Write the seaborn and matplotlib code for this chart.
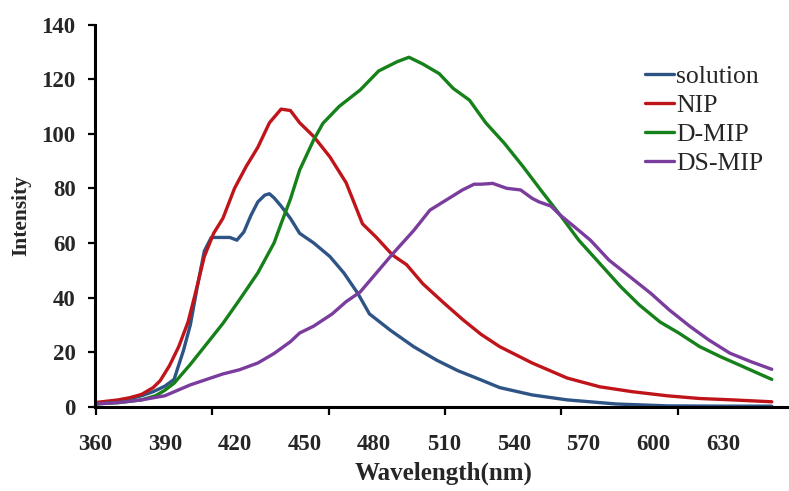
import numpy as np
import pandas as pd
from matplotlib import pyplot as plt
import seaborn as sns

# values
solution_wl = [360, 370, 380, 385, 390, 394, 398, 401, 404, 407, 410, 414, 418, 421, 424, 427,
               430, 433, 435, 437, 440, 444, 448, 454, 461, 467, 473, 478, 487, 497, 507, 516,
               526, 534, 548, 563, 584, 606, 630, 651]
solution_int = [1.0, 2.0, 4.0, 5.5, 7.5, 10.0, 20.5, 30, 44, 57, 62, 62, 62, 61, 64, 70,
                75, 77.5, 78, 76.5, 73.5, 69, 63.5, 60, 55, 49, 41.5, 34, 28, 22, 17, 13.2,
                9.8, 7, 4.3, 2.5, 1.0, 0.3, 0.2, 0.2]

nip_wl = [360, 365, 370, 375, 380, 385, 388, 392, 396, 400, 403, 407, 411, 415, 420, 425,
          430, 435, 440, 444, 448, 454, 461, 468, 475, 481, 488, 494, 501, 510, 518, 526,
          534, 548, 563, 577, 591, 606, 620, 634, 651]
nip_int = [1.5, 2.0, 2.5, 3.3, 4.5, 7.0, 9.5, 15, 22, 31, 41, 55, 63.5, 69, 80, 88,
           95, 104, 109, 108.5, 104, 99, 91.5, 82, 67, 62, 55.5, 52, 45, 38, 32, 26.5,
           22, 16, 10.5, 7.3, 5.5, 4, 3, 2.5, 1.8]

dmip_wl = [360, 370, 380, 386, 390, 394, 401, 408, 415, 422, 430, 437, 440, 444, 448, 454,
           458, 465, 474, 482, 490, 495, 501, 508, 514, 521, 528, 536, 544, 552, 560, 568,
           577, 586, 594, 603, 611, 620, 629, 637, 642, 651]
dmip_int = [1.0, 1.5, 2.5, 4.0, 6.0, 8.6, 15.5, 23, 30.5, 39, 49, 60, 67, 76, 86.7, 97.7,
            103.8, 110, 116, 123, 126.4, 128, 125.5, 122, 116.6, 112.3, 104, 96.5, 88, 79, 70.2, 61,
            52.5, 44, 37.3, 31, 27, 22, 18.3, 15.3, 13.4, 10]

dsmip_wl = [360, 370, 380, 390, 401, 408, 415, 422, 430, 437, 444, 448, 454, 462, 468, 474,
            481, 488, 497, 504, 511, 518, 523, 526, 531, 537, 543, 548, 551, 556, 560, 566,
            573, 581, 590, 599, 607, 616, 624, 633, 642, 651]
dsmip_int = [1.0, 1.5, 2.5, 4.0, 8.0, 10, 12, 13.5, 16, 19.5, 23.8, 27, 29.5, 34, 38.5, 42,
             49, 56, 64.5, 72, 75.7, 79.4, 81.5, 81.5, 81.8, 80, 79.4, 76.3, 75, 73.5, 70.2, 66,
             61, 53.7, 47.6, 41.5, 35.4, 29.3, 24.4, 19.6, 16.5, 13.7]

series_names = ['solution', 'NIP', 'D-MIP', 'DS-MIP']
series_colors = ['#2E5486', '#C0141B', '#16801A', '#7A3D9E']

frames = []
for name, wl, val in zip(series_names,
                         [solution_wl, nip_wl, dmip_wl, dsmip_wl],
                         [solution_int, nip_int, dmip_int, dsmip_int]):
    frames.append(pd.DataFrame({'wavelength': wl, 'intensity': val, 'sample': name}))
df = pd.concat(frames, ignore_index=True)

sns.set_style('ticks')
plt.rcParams['font.family'] = ['Liberation Serif', 'DejaVu Serif']

fig = plt.figure(figsize=(7.89, 4.91), dpi=100)
ax = fig.add_axes([95 / 789, 1 - 406.7 / 491, 1 - 95 / 789, (406.7 - 24.5) / 491])

sns.lineplot(data=df, x='wavelength', y='intensity', hue='sample',
             hue_order=series_names, palette=series_colors,
             lw=2.4, ax=ax, sort=True)

ax.set_xlim(360, 658.4)
ax.set_ylim(0, 140)

for side in ['top', 'right']:
    ax.spines[side].set_visible(False)
for side in ['left', 'bottom']:
    ax.spines[side].set_linewidth(2.2)
    ax.spines[side].set_color('black')

ax.set_xticks(np.arange(360, 631, 30))
ax.set_xticklabels([str(v) for v in range(360, 631, 30)])
ax.set_xticks(np.arange(360.5, 650, 50), minor=True)
ax.tick_params(axis='x', which='major', length=0, pad=20, labelsize=16.5)
ax.tick_params(axis='x', which='minor', length=6, width=1.6, direction='out', color='black')
ax.set_yticks(np.arange(0, 141, 20))
ax.tick_params(axis='y', which='major', length=5, width=1.6, direction='out',
               pad=9, labelsize=16.5, color='black')
for lab in ax.get_xticklabels() + ax.get_yticklabels():
    lab.set_fontweight('bold')

ax.set_xlabel('Wavelength(nm)', fontsize=18, fontweight='bold')
ax.set_ylabel('Intensity', fontsize=15.5, fontweight='bold')
ax.xaxis.set_label_coords((444 - 95) / 694, -(462 - 406.7) / 382.2)
ax.yaxis.set_label_coords(-(95 - 31) / 694, 0.5)

leg = ax.get_legend()
handles = leg.legend_handles
labels = [t.get_text() for t in leg.get_texts()]
ax.legend(handles, labels, loc='upper left', bbox_to_anchor=(645 / 789, 1 - 65 / 491),
          bbox_transform=fig.transFigure, frameon=False, fontsize=18.5,
          handlelength=1.13, handletextpad=0.08, labelspacing=0.23,
          borderpad=0, borderaxespad=0)

plt.savefig('out.png', dpi=100)
